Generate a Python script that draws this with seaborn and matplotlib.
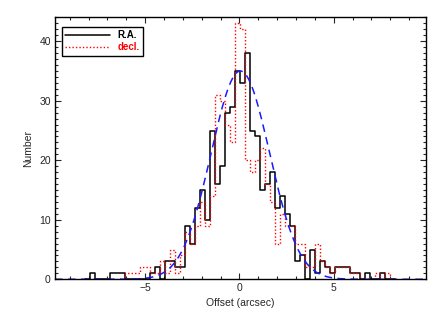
import numpy as np
import pandas as pd
import matplotlib
matplotlib.use("Agg")
import matplotlib.pyplot as plt
import seaborn as sns
from matplotlib.lines import Line2D
from matplotlib.ticker import MultipleLocator

# histogram bins (arcsec)
bin_lo = -8.19
bin_w = 0.2653
n_bins = 62

# counts per bin, left to right
ra_counts = [0, 1, 0, 0, 0, 1, 1, 1, 0, 0,
             0, 0, 0, 1, 2, 0, 3, 3, 2, 2,
             9, 6, 12, 15, 10, 25, 16, 19, 28, 29,
             35, 33, 38, 25, 24, 15, 16, 18, 12, 14,
             11, 9, 3, 4, 0, 5, 1, 3, 2, 1,
             2, 2, 2, 1, 1, 0, 1, 0, 0, 1,
             0, 0]
dec_counts = [0, 0, 0, 0, 0, 0, 0, 0, 1, 1,
              1, 2, 2, 1, 1, 3, 1, 5, 1, 4,
              8, 6, 9, 13, 9, 14, 31, 30, 26, 23,
              43, 42, 20, 18, 20, 22, 16, 13, 6, 11,
              9, 9, 6, 6, 2, 2, 6, 3, 2, 1,
              2, 2, 2, 1, 1, 0, 0, 0, 1, 0,
              1, 0]

# gaussian fit to the offsets
fit_amp = 35.0
fit_mu = 0.05
fit_sigma = 1.55

labels = ["R.A.", "decl."]

sns.set_style("ticks")
plt.rcParams["font.family"] = ["Liberation Sans", "DejaVu Sans"]

edges = list(bin_lo + bin_w * np.arange(n_bins + 1))
centers = [0.5 * (edges[i] + edges[i + 1]) for i in range(n_bins)]
df = pd.DataFrame({"offset": centers, "ra": ra_counts, "dec": dec_counts})

fig = plt.figure(figsize=(4.43, 3.17), dpi=100)
ax = fig.add_axes([0.124, 0.119, 0.838, 0.826])

sns.histplot(data=df, x="offset", weights="ra", bins=edges, element="step",
             fill=False, color="black", linewidth=1.1, ax=ax)
sns.histplot(data=df, x="offset", weights="dec", bins=edges, element="step",
             fill=False, color="red", linewidth=1.0, linestyle=(0, (1, 1.5)), ax=ax)

xlim = (-9.78, 9.9)
gx = np.linspace(xlim[0], xlim[1], 400)
gy = fit_amp * np.exp(-0.5 * ((gx - fit_mu) / fit_sigma) ** 2)
ax.plot(gx, gy, color="#1a1aff", linewidth=1.1, linestyle=(0, (5, 3.5)))

ax.set_xlim(*xlim)
ax.set_ylim(0, 44)
ax.xaxis.set_major_locator(MultipleLocator(5))
ax.xaxis.set_minor_locator(MultipleLocator(1))
ax.yaxis.set_major_locator(MultipleLocator(10))
ax.yaxis.set_minor_locator(MultipleLocator(1))
ax.tick_params(which="both", direction="in", top=True, right=True,
               labelsize=7.5, width=0.8, pad=3)
ax.tick_params(which="major", length=4.5)
ax.tick_params(which="minor", length=2.2)
for s in ax.spines.values():
    s.set_linewidth(1.0)
    s.set_color("black")

ax.set_xlabel("Offset (arcsec)", fontsize=7.5, labelpad=3)
ax.set_ylabel("Number", fontsize=7.5, labelpad=4)

handles = [Line2D([], [], color="black", lw=1.1),
           Line2D([], [], color="red", lw=1.0, linestyle=(0, (1, 1.5)))]
leg = ax.legend(handles, labels, loc="upper left", bbox_to_anchor=(0.018, 0.965),
                frameon=True, fancybox=False, edgecolor="black", framealpha=1,
                fontsize=7, handlelength=4.6, borderpad=0.35, labelspacing=0.25,
                handletextpad=0.8, borderaxespad=0)
leg.get_frame().set_linewidth(1.0)
for txt, c in zip(leg.get_texts(), ["black", "red"]):
    txt.set_color(c)
    txt.set_fontweight("bold")

fig.savefig("out.png", dpi=100)
